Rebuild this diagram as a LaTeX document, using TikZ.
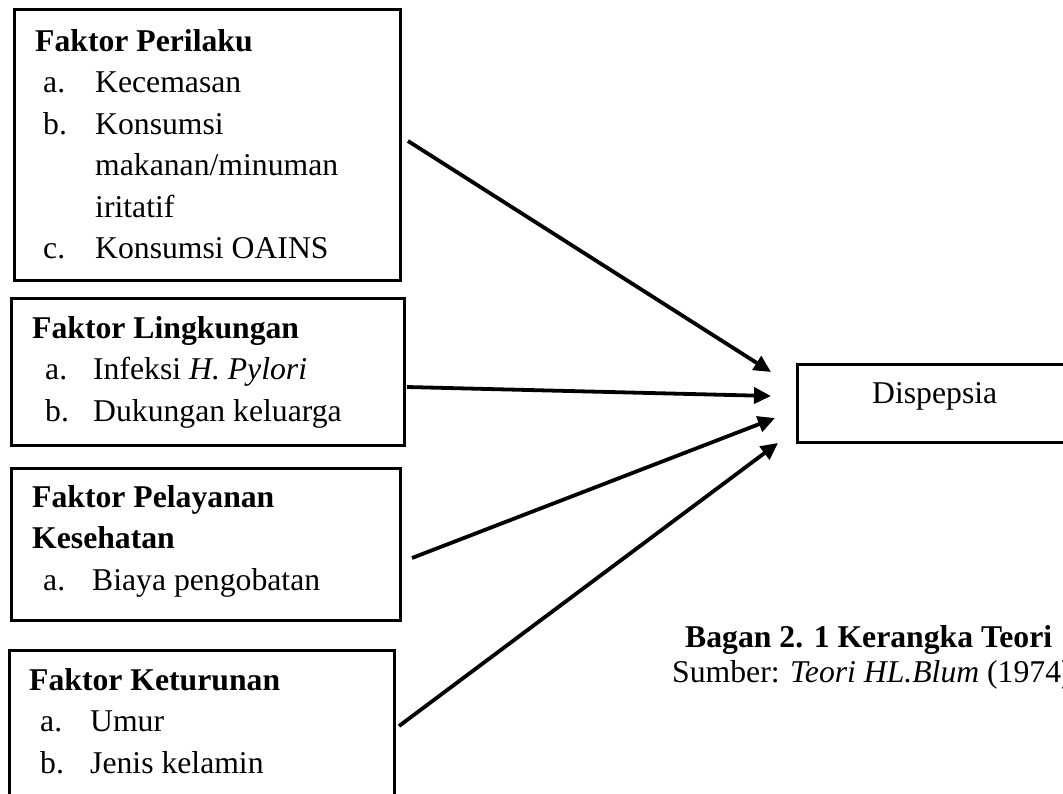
\documentclass[tikz,border=0pt]{standalone}
\usepackage{fontspec}
\setmainfont{Liberation Serif}
\usetikzlibrary{arrows.meta,calc}
\newcommand{\bigtext}{\fontsize{31.7}{41.5}\selectfont}
\tikzset{
  factorbox/.style={draw=black, line width=2.5pt, anchor=north west, inner sep=0pt},
  boxtext/.style={anchor=base west, inner sep=0pt, font=\bigtext},
  link/.style={line width=3.8pt, -{Triangle[length=17pt,width=16pt]}},
}
\begin{document}
\begin{tikzpicture}[x=1pt,y=-1pt]
\useasboundingbox (0,0) rectangle (1063,793);
% boxes
\node[factorbox, minimum width=386pt, minimum height=271pt] (b1) at (13,8) {};
\node[factorbox, minimum width=393pt, minimum height=147pt] (b2) at (10,297) {};
\node[factorbox, minimum width=389pt, minimum height=152pt] (b3) at (10,467) {};
\node[factorbox, minimum width=385pt, minimum height=170pt] (b4) at (8,649) {};
\node[factorbox, minimum width=290pt, minimum height=78pt] (d) at (796,363) {};
% box contents
\node[boxtext] (t1) at (35,51) {%
\begin{tabular}[t]{@{}p{60pt}@{}l@{}}
\multicolumn{2}{@{}l@{}}{\textbf{Faktor Perilaku}}\\
\hspace*{8pt}a. & Kecemasan\\
\hspace*{8pt}b. & Konsumsi\\
 & makanan/minuman\\
 & iritatif\\
\hspace*{8pt}c. & Konsumsi OAINS
\end{tabular}};
\node[boxtext] (t2) at (32,338) {%
\begin{tabular}[t]{@{}p{61pt}@{}l@{}}
\multicolumn{2}{@{}l@{}}{\textbf{Faktor Lingkungan}}\\
\hspace*{13pt}a. & Infeksi \textit{H. Pylori}\\
\hspace*{13pt}b. & Dukungan keluarga
\end{tabular}};
\node[boxtext] (t3) at (32,507) {%
\begin{tabular}[t]{@{}p{60pt}@{}l@{}}
\multicolumn{2}{@{}l@{}}{\textbf{Faktor Pelayanan}}\\
\multicolumn{2}{@{}l@{}}{\textbf{Kesehatan}}\\
\hspace*{11pt}a. & Biaya pengobatan
\end{tabular}};
\node[boxtext] (t4) at (29,690) {%
\begin{tabular}[t]{@{}p{61pt}@{}l@{}}
\multicolumn{2}{@{}l@{}}{\textbf{Faktor Keturunan}}\\
\hspace*{11pt}a. & Umur\\
\hspace*{11pt}b. & Jenis kelamin
\end{tabular}};
\node[boxtext] (td) at (872,403) {Dispepsia};
% caption
\node[boxtext] (cap1) at (685,647) {\textbf{Bagan 2. 1 Kerangka Teori}};
\node[boxtext] (cap2) at (672,682) {Sumber: \textit{Teori HL.Blum} (1974)};
% connector ends
\coordinate (s1) at (408,141);
\coordinate (e1) at (771,372);
\coordinate (s2) at (407,387);
\coordinate (e2) at (771,396);
\coordinate (s3) at (412,558);
\coordinate (e3) at (775,418);
\coordinate (s4) at (399,726);
\coordinate (e4) at (778,443);
\draw[link] (s1) -- (e1);
\draw[link] (s2) -- (e2);
\draw[link] (s3) -- (e3);
\draw[link] (s4) -- (e4);
\end{tikzpicture}
\end{document}
